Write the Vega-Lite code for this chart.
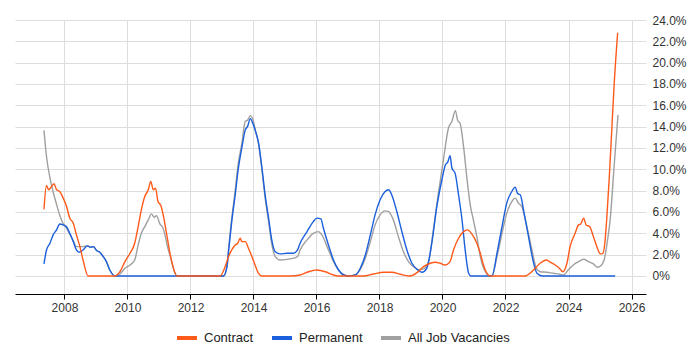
{
  "$schema": "https://vega.github.io/schema/vega-lite/v6.json",
  "autosize": {"type": "none"},
  "width": 631,
  "height": 274,
  "padding": {"left": 15, "top": 20, "right": 54, "bottom": 56},
  "background": "white",
  "config": {
    "view": {"stroke": null},
    "font": "Liberation Sans",
    "axis": {"labelFont": "Liberation Sans", "labelFontSize": 12, "labelColor": "#333333", "gridColor": "#dddddd", "gridWidth": 1}
  },
  "datasets": {
    "all": [
      {"series": "All Job Vacancies", "year": 2007.35, "pct": 13.65},
      {"series": "All Job Vacancies", "year": 2007.43, "pct": 11.2},
      {"series": "All Job Vacancies", "year": 2007.54, "pct": 9.2},
      {"series": "All Job Vacancies", "year": 2007.64, "pct": 7.9},
      {"series": "All Job Vacancies", "year": 2007.75, "pct": 6.7},
      {"series": "All Job Vacancies", "year": 2007.85, "pct": 5.7},
      {"series": "All Job Vacancies", "year": 2007.96, "pct": 4.9},
      {"series": "All Job Vacancies", "year": 2008.06, "pct": 4.5},
      {"series": "All Job Vacancies", "year": 2008.17, "pct": 3.9},
      {"series": "All Job Vacancies", "year": 2008.28, "pct": 3.3},
      {"series": "All Job Vacancies", "year": 2008.38, "pct": 2.75},
      {"series": "All Job Vacancies", "year": 2008.46, "pct": 2.75},
      {"series": "All Job Vacancies", "year": 2008.59, "pct": 2.75},
      {"series": "All Job Vacancies", "year": 2008.73, "pct": 2.82},
      {"series": "All Job Vacancies", "year": 2008.84, "pct": 2.7},
      {"series": "All Job Vacancies", "year": 2008.92, "pct": 2.75},
      {"series": "All Job Vacancies", "year": 2009.02, "pct": 2.38},
      {"series": "All Job Vacancies", "year": 2009.12, "pct": 2.22},
      {"series": "All Job Vacancies", "year": 2009.23, "pct": 1.82},
      {"series": "All Job Vacancies", "year": 2009.33, "pct": 1.35},
      {"series": "All Job Vacancies", "year": 2009.44, "pct": 0.56},
      {"series": "All Job Vacancies", "year": 2009.6, "pct": 0},
      {"series": "All Job Vacancies", "year": 2009.76, "pct": 0.19},
      {"series": "All Job Vacancies", "year": 2009.92, "pct": 0.72},
      {"series": "All Job Vacancies", "year": 2010.08, "pct": 1.03},
      {"series": "All Job Vacancies", "year": 2010.23, "pct": 1.5},
      {"series": "All Job Vacancies", "year": 2010.34, "pct": 2.91},
      {"series": "All Job Vacancies", "year": 2010.44, "pct": 4.0},
      {"series": "All Job Vacancies", "year": 2010.55, "pct": 4.63},
      {"series": "All Job Vacancies", "year": 2010.66, "pct": 5.26},
      {"series": "All Job Vacancies", "year": 2010.76, "pct": 5.82},
      {"series": "All Job Vacancies", "year": 2010.85, "pct": 5.51},
      {"series": "All Job Vacancies", "year": 2010.92, "pct": 5.66},
      {"series": "All Job Vacancies", "year": 2011.03, "pct": 4.88},
      {"series": "All Job Vacancies", "year": 2011.13, "pct": 4.48},
      {"series": "All Job Vacancies", "year": 2011.19, "pct": 3.85},
      {"series": "All Job Vacancies", "year": 2011.27, "pct": 2.75},
      {"series": "All Job Vacancies", "year": 2011.36, "pct": 1.82},
      {"series": "All Job Vacancies", "year": 2011.51, "pct": 0.25},
      {"series": "All Job Vacancies", "year": 2011.58, "pct": 0},
      {"series": "All Job Vacancies", "year": 2013.05, "pct": 0},
      {"series": "All Job Vacancies", "year": 2013.16, "pct": 1.0},
      {"series": "All Job Vacancies", "year": 2013.21, "pct": 2.6},
      {"series": "All Job Vacancies", "year": 2013.31, "pct": 5.4},
      {"series": "All Job Vacancies", "year": 2013.42, "pct": 8.0},
      {"series": "All Job Vacancies", "year": 2013.52, "pct": 10.6},
      {"series": "All Job Vacancies", "year": 2013.63, "pct": 12.4},
      {"series": "All Job Vacancies", "year": 2013.74, "pct": 14.5},
      {"series": "All Job Vacancies", "year": 2013.81, "pct": 14.6},
      {"series": "All Job Vacancies", "year": 2013.9, "pct": 15.03},
      {"series": "All Job Vacancies", "year": 2014.0, "pct": 14.5},
      {"series": "All Job Vacancies", "year": 2014.05, "pct": 13.8},
      {"series": "All Job Vacancies", "year": 2014.16, "pct": 12.4},
      {"series": "All Job Vacancies", "year": 2014.27, "pct": 9.9},
      {"series": "All Job Vacancies", "year": 2014.37, "pct": 7.3},
      {"series": "All Job Vacancies", "year": 2014.48, "pct": 5.1},
      {"series": "All Job Vacancies", "year": 2014.58, "pct": 3.0},
      {"series": "All Job Vacancies", "year": 2014.69, "pct": 1.82},
      {"series": "All Job Vacancies", "year": 2014.85, "pct": 1.5},
      {"series": "All Job Vacancies", "year": 2015.17, "pct": 1.6},
      {"series": "All Job Vacancies", "year": 2015.4, "pct": 1.82},
      {"series": "All Job Vacancies", "year": 2015.48, "pct": 2.44},
      {"series": "All Job Vacancies", "year": 2015.7, "pct": 3.38},
      {"series": "All Job Vacancies", "year": 2015.9, "pct": 4.0},
      {"series": "All Job Vacancies", "year": 2016.06, "pct": 4.16},
      {"series": "All Job Vacancies", "year": 2016.17, "pct": 3.85},
      {"series": "All Job Vacancies", "year": 2016.38, "pct": 2.44},
      {"series": "All Job Vacancies", "year": 2016.54, "pct": 1.35},
      {"series": "All Job Vacancies", "year": 2016.75, "pct": 0.4},
      {"series": "All Job Vacancies", "year": 2017.02, "pct": 0},
      {"series": "All Job Vacancies", "year": 2017.23, "pct": 0.1},
      {"series": "All Job Vacancies", "year": 2017.39, "pct": 0.6},
      {"series": "All Job Vacancies", "year": 2017.55, "pct": 1.66},
      {"series": "All Job Vacancies", "year": 2017.71, "pct": 3.22},
      {"series": "All Job Vacancies", "year": 2017.86, "pct": 4.79},
      {"series": "All Job Vacancies", "year": 2018.02, "pct": 5.73},
      {"series": "All Job Vacancies", "year": 2018.18, "pct": 6.1},
      {"series": "All Job Vacancies", "year": 2018.29, "pct": 6.04},
      {"series": "All Job Vacancies", "year": 2018.44, "pct": 5.26},
      {"series": "All Job Vacancies", "year": 2018.6, "pct": 3.69},
      {"series": "All Job Vacancies", "year": 2018.76, "pct": 2.28},
      {"series": "All Job Vacancies", "year": 2018.92, "pct": 1.35},
      {"series": "All Job Vacancies", "year": 2019.08, "pct": 0.87},
      {"series": "All Job Vacancies", "year": 2019.24, "pct": 0.6},
      {"series": "All Job Vacancies", "year": 2019.4, "pct": 0.66},
      {"series": "All Job Vacancies", "year": 2019.56, "pct": 1.35},
      {"series": "All Job Vacancies", "year": 2019.71, "pct": 4.32},
      {"series": "All Job Vacancies", "year": 2019.87, "pct": 7.76},
      {"series": "All Job Vacancies", "year": 2020.03, "pct": 10.9},
      {"series": "All Job Vacancies", "year": 2020.19, "pct": 13.87},
      {"series": "All Job Vacancies", "year": 2020.3, "pct": 14.5},
      {"series": "All Job Vacancies", "year": 2020.41, "pct": 15.5},
      {"series": "All Job Vacancies", "year": 2020.48, "pct": 14.6},
      {"series": "All Job Vacancies", "year": 2020.56, "pct": 14.3},
      {"series": "All Job Vacancies", "year": 2020.67, "pct": 12.1},
      {"series": "All Job Vacancies", "year": 2020.77, "pct": 9.3},
      {"series": "All Job Vacancies", "year": 2020.88, "pct": 6.67},
      {"series": "All Job Vacancies", "year": 2020.98, "pct": 5.26},
      {"series": "All Job Vacancies", "year": 2021.09, "pct": 3.69},
      {"series": "All Job Vacancies", "year": 2021.2, "pct": 1.82},
      {"series": "All Job Vacancies", "year": 2021.36, "pct": 0.4},
      {"series": "All Job Vacancies", "year": 2021.51, "pct": 0},
      {"series": "All Job Vacancies", "year": 2021.57, "pct": 0},
      {"series": "All Job Vacancies", "year": 2021.73, "pct": 1.82},
      {"series": "All Job Vacancies", "year": 2021.89, "pct": 4.0},
      {"series": "All Job Vacancies", "year": 2022.04, "pct": 5.89},
      {"series": "All Job Vacancies", "year": 2022.2, "pct": 6.98},
      {"series": "All Job Vacancies", "year": 2022.31, "pct": 7.3},
      {"series": "All Job Vacancies", "year": 2022.41, "pct": 6.83},
      {"series": "All Job Vacancies", "year": 2022.52, "pct": 6.5},
      {"series": "All Job Vacancies", "year": 2022.68, "pct": 4.63},
      {"series": "All Job Vacancies", "year": 2022.84, "pct": 2.44},
      {"series": "All Job Vacancies", "year": 2022.98, "pct": 0.72},
      {"series": "All Job Vacancies", "year": 2023.1, "pct": 0.4},
      {"series": "All Job Vacancies", "year": 2023.31, "pct": 0.35},
      {"series": "All Job Vacancies", "year": 2023.52, "pct": 0.25},
      {"series": "All Job Vacancies", "year": 2023.73, "pct": 0.16},
      {"series": "All Job Vacancies", "year": 2023.84, "pct": 0.09},
      {"series": "All Job Vacancies", "year": 2023.99, "pct": 0.56},
      {"series": "All Job Vacancies", "year": 2024.15, "pct": 1.03},
      {"series": "All Job Vacancies", "year": 2024.32, "pct": 1.35},
      {"series": "All Job Vacancies", "year": 2024.48, "pct": 1.57},
      {"series": "All Job Vacancies", "year": 2024.63, "pct": 1.35},
      {"series": "All Job Vacancies", "year": 2024.79, "pct": 1.13},
      {"series": "All Job Vacancies", "year": 2024.92, "pct": 0.82},
      {"series": "All Job Vacancies", "year": 2025.02, "pct": 0.94},
      {"series": "All Job Vacancies", "year": 2025.13, "pct": 1.5},
      {"series": "All Job Vacancies", "year": 2025.24, "pct": 3.38},
      {"series": "All Job Vacancies", "year": 2025.33, "pct": 5.5},
      {"series": "All Job Vacancies", "year": 2025.44, "pct": 9.96},
      {"series": "All Job Vacancies", "year": 2025.57, "pct": 15.1}
    ],
    "perm": [
      {"series": "Permanent", "year": 2007.35, "pct": 1.13},
      {"series": "Permanent", "year": 2007.43, "pct": 2.44},
      {"series": "Permanent", "year": 2007.54, "pct": 3.07},
      {"series": "Permanent", "year": 2007.64, "pct": 3.85},
      {"series": "Permanent", "year": 2007.75, "pct": 4.32},
      {"series": "Permanent", "year": 2007.85, "pct": 4.88},
      {"series": "Permanent", "year": 2007.96, "pct": 4.79},
      {"series": "Permanent", "year": 2008.06, "pct": 4.63},
      {"series": "Permanent", "year": 2008.17, "pct": 4.0},
      {"series": "Permanent", "year": 2008.28, "pct": 3.22},
      {"series": "Permanent", "year": 2008.38, "pct": 2.44},
      {"series": "Permanent", "year": 2008.46, "pct": 2.22},
      {"series": "Permanent", "year": 2008.59, "pct": 2.44},
      {"series": "Permanent", "year": 2008.73, "pct": 2.82},
      {"series": "Permanent", "year": 2008.84, "pct": 2.7},
      {"series": "Permanent", "year": 2008.92, "pct": 2.75},
      {"series": "Permanent", "year": 2009.02, "pct": 2.38},
      {"series": "Permanent", "year": 2009.12, "pct": 2.22},
      {"series": "Permanent", "year": 2009.23, "pct": 1.82},
      {"series": "Permanent", "year": 2009.33, "pct": 1.35},
      {"series": "Permanent", "year": 2009.44, "pct": 0.56},
      {"series": "Permanent", "year": 2009.6, "pct": 0},
      {"series": "Permanent", "year": 2013.05, "pct": 0},
      {"series": "Permanent", "year": 2013.16, "pct": 0.87},
      {"series": "Permanent", "year": 2013.21, "pct": 2.3},
      {"series": "Permanent", "year": 2013.31, "pct": 5.1},
      {"series": "Permanent", "year": 2013.42, "pct": 7.6},
      {"series": "Permanent", "year": 2013.52, "pct": 10.1},
      {"series": "Permanent", "year": 2013.63, "pct": 12.0},
      {"series": "Permanent", "year": 2013.74, "pct": 13.7},
      {"series": "Permanent", "year": 2013.81, "pct": 14.0},
      {"series": "Permanent", "year": 2013.9, "pct": 14.75},
      {"series": "Permanent", "year": 2013.98, "pct": 14.3},
      {"series": "Permanent", "year": 2014.05, "pct": 13.7},
      {"series": "Permanent", "year": 2014.16, "pct": 12.5},
      {"series": "Permanent", "year": 2014.27, "pct": 10.1},
      {"series": "Permanent", "year": 2014.37, "pct": 7.6},
      {"series": "Permanent", "year": 2014.48, "pct": 5.42},
      {"series": "Permanent", "year": 2014.58, "pct": 3.38},
      {"series": "Permanent", "year": 2014.69, "pct": 2.28},
      {"series": "Permanent", "year": 2014.85, "pct": 2.07},
      {"series": "Permanent", "year": 2015.06, "pct": 2.13},
      {"series": "Permanent", "year": 2015.27, "pct": 2.13},
      {"series": "Permanent", "year": 2015.4, "pct": 2.44},
      {"series": "Permanent", "year": 2015.48, "pct": 3.07},
      {"series": "Permanent", "year": 2015.7, "pct": 4.16},
      {"series": "Permanent", "year": 2015.9, "pct": 5.1},
      {"series": "Permanent", "year": 2016.01, "pct": 5.42},
      {"series": "Permanent", "year": 2016.14, "pct": 5.35},
      {"series": "Permanent", "year": 2016.22, "pct": 4.48},
      {"series": "Permanent", "year": 2016.38, "pct": 2.91},
      {"series": "Permanent", "year": 2016.54, "pct": 1.5},
      {"series": "Permanent", "year": 2016.7, "pct": 0.56},
      {"series": "Permanent", "year": 2016.86, "pct": 0.09},
      {"series": "Permanent", "year": 2017.02, "pct": 0},
      {"series": "Permanent", "year": 2017.23, "pct": 0.09},
      {"series": "Permanent", "year": 2017.39, "pct": 0.72},
      {"series": "Permanent", "year": 2017.55, "pct": 1.97},
      {"series": "Permanent", "year": 2017.71, "pct": 3.85},
      {"series": "Permanent", "year": 2017.86, "pct": 5.73},
      {"series": "Permanent", "year": 2018.02, "pct": 7.14},
      {"series": "Permanent", "year": 2018.18, "pct": 7.92},
      {"series": "Permanent", "year": 2018.29, "pct": 8.08},
      {"series": "Permanent", "year": 2018.39, "pct": 7.6},
      {"series": "Permanent", "year": 2018.55, "pct": 6.04},
      {"series": "Permanent", "year": 2018.71, "pct": 4.16},
      {"series": "Permanent", "year": 2018.87, "pct": 2.44},
      {"series": "Permanent", "year": 2019.03, "pct": 1.19},
      {"series": "Permanent", "year": 2019.19, "pct": 0.63},
      {"series": "Permanent", "year": 2019.35, "pct": 0.35},
      {"series": "Permanent", "year": 2019.5, "pct": 0.72},
      {"series": "Permanent", "year": 2019.66, "pct": 3.07},
      {"series": "Permanent", "year": 2019.82, "pct": 6.5},
      {"series": "Permanent", "year": 2019.98, "pct": 9.0},
      {"series": "Permanent", "year": 2020.09, "pct": 10.4},
      {"series": "Permanent", "year": 2020.17, "pct": 10.7},
      {"series": "Permanent", "year": 2020.24, "pct": 11.27},
      {"series": "Permanent", "year": 2020.3, "pct": 10.1},
      {"series": "Permanent", "year": 2020.4, "pct": 9.64},
      {"series": "Permanent", "year": 2020.51, "pct": 7.6},
      {"series": "Permanent", "year": 2020.62, "pct": 5.26},
      {"series": "Permanent", "year": 2020.72, "pct": 2.44},
      {"series": "Permanent", "year": 2020.83, "pct": 0.25},
      {"series": "Permanent", "year": 2020.9, "pct": 0},
      {"series": "Permanent", "year": 2021.57, "pct": 0},
      {"series": "Permanent", "year": 2021.73, "pct": 2.13},
      {"series": "Permanent", "year": 2021.89, "pct": 4.63},
      {"series": "Permanent", "year": 2022.04, "pct": 6.83},
      {"series": "Permanent", "year": 2022.2, "pct": 7.92},
      {"series": "Permanent", "year": 2022.31, "pct": 8.33},
      {"series": "Permanent", "year": 2022.38, "pct": 7.76},
      {"series": "Permanent", "year": 2022.47, "pct": 7.6},
      {"series": "Permanent", "year": 2022.59, "pct": 5.89},
      {"series": "Permanent", "year": 2022.73, "pct": 3.69},
      {"series": "Permanent", "year": 2022.87, "pct": 1.5},
      {"series": "Permanent", "year": 2023.0, "pct": 0.25},
      {"series": "Permanent", "year": 2023.16, "pct": 0},
      {"series": "Permanent", "year": 2025.48, "pct": 0}
    ],
    "contract": [
      {"series": "Contract", "year": 2007.35, "pct": 6.26},
      {"series": "Contract", "year": 2007.43, "pct": 8.48},
      {"series": "Contract", "year": 2007.5, "pct": 8.08},
      {"series": "Contract", "year": 2007.59, "pct": 8.39},
      {"series": "Contract", "year": 2007.67, "pct": 8.64},
      {"series": "Contract", "year": 2007.75, "pct": 8.08},
      {"series": "Contract", "year": 2007.85, "pct": 7.92},
      {"series": "Contract", "year": 2007.96, "pct": 7.3},
      {"series": "Contract", "year": 2008.06, "pct": 6.58},
      {"series": "Contract", "year": 2008.17, "pct": 5.42},
      {"series": "Contract", "year": 2008.28, "pct": 4.95},
      {"series": "Contract", "year": 2008.38, "pct": 3.85},
      {"series": "Contract", "year": 2008.49, "pct": 2.75},
      {"series": "Contract", "year": 2008.59, "pct": 1.5},
      {"series": "Contract", "year": 2008.75, "pct": 0},
      {"series": "Contract", "year": 2009.6, "pct": 0},
      {"series": "Contract", "year": 2009.76, "pct": 0.4},
      {"series": "Contract", "year": 2009.92, "pct": 1.35},
      {"series": "Contract", "year": 2010.08, "pct": 2.13},
      {"series": "Contract", "year": 2010.23, "pct": 3.07},
      {"series": "Contract", "year": 2010.34, "pct": 4.63},
      {"series": "Contract", "year": 2010.44, "pct": 6.2},
      {"series": "Contract", "year": 2010.55, "pct": 7.45},
      {"series": "Contract", "year": 2010.66, "pct": 8.08},
      {"series": "Contract", "year": 2010.74, "pct": 8.86},
      {"series": "Contract", "year": 2010.82, "pct": 8.08},
      {"series": "Contract", "year": 2010.89, "pct": 8.24},
      {"series": "Contract", "year": 2010.97, "pct": 6.98},
      {"series": "Contract", "year": 2011.06, "pct": 6.6},
      {"series": "Contract", "year": 2011.15, "pct": 5.5},
      {"series": "Contract", "year": 2011.24, "pct": 4.0},
      {"series": "Contract", "year": 2011.36, "pct": 1.97},
      {"series": "Contract", "year": 2011.46, "pct": 0.72},
      {"series": "Contract", "year": 2011.57, "pct": 0},
      {"series": "Contract", "year": 2012.94, "pct": 0},
      {"series": "Contract", "year": 2013.1, "pct": 0.87},
      {"series": "Contract", "year": 2013.21, "pct": 1.82},
      {"series": "Contract", "year": 2013.31, "pct": 2.44},
      {"series": "Contract", "year": 2013.42, "pct": 2.91},
      {"series": "Contract", "year": 2013.5, "pct": 3.07},
      {"series": "Contract", "year": 2013.58, "pct": 3.54},
      {"series": "Contract", "year": 2013.63, "pct": 3.22},
      {"series": "Contract", "year": 2013.74, "pct": 3.22},
      {"series": "Contract", "year": 2013.84, "pct": 2.6},
      {"series": "Contract", "year": 2013.95, "pct": 1.82},
      {"series": "Contract", "year": 2014.05, "pct": 1.03},
      {"series": "Contract", "year": 2014.16, "pct": 0.25},
      {"series": "Contract", "year": 2014.27, "pct": 0},
      {"series": "Contract", "year": 2015.17, "pct": 0},
      {"series": "Contract", "year": 2015.48, "pct": 0.09},
      {"series": "Contract", "year": 2015.75, "pct": 0.4},
      {"series": "Contract", "year": 2016.01, "pct": 0.56},
      {"series": "Contract", "year": 2016.28, "pct": 0.4},
      {"series": "Contract", "year": 2016.54, "pct": 0.09},
      {"series": "Contract", "year": 2016.69, "pct": 0},
      {"series": "Contract", "year": 2017.49, "pct": 0},
      {"series": "Contract", "year": 2017.81, "pct": 0.19},
      {"series": "Contract", "year": 2018.13, "pct": 0.35},
      {"series": "Contract", "year": 2018.39, "pct": 0.35},
      {"series": "Contract", "year": 2018.66, "pct": 0.16},
      {"series": "Contract", "year": 2018.92, "pct": 0},
      {"series": "Contract", "year": 2018.97, "pct": 0},
      {"series": "Contract", "year": 2019.19, "pct": 0.31},
      {"series": "Contract", "year": 2019.4, "pct": 0.87},
      {"series": "Contract", "year": 2019.61, "pct": 1.19},
      {"series": "Contract", "year": 2019.77, "pct": 1.29},
      {"series": "Contract", "year": 2019.93, "pct": 1.19},
      {"series": "Contract", "year": 2020.08, "pct": 1.03},
      {"series": "Contract", "year": 2020.24, "pct": 1.35},
      {"series": "Contract", "year": 2020.35, "pct": 2.44},
      {"series": "Contract", "year": 2020.51, "pct": 3.54},
      {"series": "Contract", "year": 2020.67, "pct": 4.16},
      {"series": "Contract", "year": 2020.79, "pct": 4.32},
      {"series": "Contract", "year": 2020.93, "pct": 3.95},
      {"series": "Contract", "year": 2021.09, "pct": 3.07},
      {"series": "Contract", "year": 2021.2, "pct": 2.13},
      {"series": "Contract", "year": 2021.3, "pct": 1.03},
      {"series": "Contract", "year": 2021.41, "pct": 0.25},
      {"series": "Contract", "year": 2021.51, "pct": 0},
      {"series": "Contract", "year": 2022.62, "pct": 0},
      {"series": "Contract", "year": 2022.89, "pct": 0.56},
      {"series": "Contract", "year": 2023.1, "pct": 1.19},
      {"series": "Contract", "year": 2023.29, "pct": 1.5},
      {"series": "Contract", "year": 2023.42, "pct": 1.29},
      {"series": "Contract", "year": 2023.58, "pct": 1.03},
      {"series": "Contract", "year": 2023.71, "pct": 0.72},
      {"series": "Contract", "year": 2023.82, "pct": 0.4},
      {"series": "Contract", "year": 2023.95, "pct": 1.19},
      {"series": "Contract", "year": 2024.05, "pct": 2.75},
      {"series": "Contract", "year": 2024.21, "pct": 4.0},
      {"series": "Contract", "year": 2024.32, "pct": 4.79},
      {"series": "Contract", "year": 2024.39, "pct": 4.88},
      {"series": "Contract", "year": 2024.48, "pct": 5.42},
      {"series": "Contract", "year": 2024.56, "pct": 4.79},
      {"series": "Contract", "year": 2024.67, "pct": 4.63},
      {"series": "Contract", "year": 2024.79, "pct": 3.69},
      {"series": "Contract", "year": 2024.9, "pct": 2.75},
      {"series": "Contract", "year": 2025.01, "pct": 2.07},
      {"series": "Contract", "year": 2025.09, "pct": 2.13},
      {"series": "Contract", "year": 2025.15, "pct": 3.0},
      {"series": "Contract", "year": 2025.21, "pct": 5.2},
      {"series": "Contract", "year": 2025.29, "pct": 9.0},
      {"series": "Contract", "year": 2025.37, "pct": 13.5},
      {"series": "Contract", "year": 2025.45, "pct": 18.0},
      {"series": "Contract", "year": 2025.56, "pct": 22.8}
    ]
  },
  "encoding": {
    "x": {
      "field": "year", "type": "quantitative",
      "scale": {"domain": [2006.43, 2026.46], "nice": false, "zero": false},
      "axis": {
        "title": null, "values": [2008, 2010, 2012, 2014, 2016, 2018, 2020, 2022, 2024, 2026],
        "format": "d", "grid": true, "domain": true, "domainColor": "#000000", "domainWidth": 1,
        "ticks": true, "tickColor": "#000000", "tickSize": 5, "labelPadding": 3
      }
    },
    "y": {
      "field": "pct", "type": "quantitative",
      "scale": {"domain": [-1.69, 24], "nice": false, "zero": false},
      "axis": {
        "title": null, "orient": "right", "values": [0, 2, 4, 6, 8, 10, 12, 14, 16, 18, 20, 22, 24],
        "labelExpr": "datum.value == 0 ? '0%' : format(datum.value, '.1f') + '%'",
        "grid": true, "domain": false, "ticks": false, "labelPadding": 6, "labelAlign": "left"
      }
    },
    "color": {
      "field": "series", "type": "nominal",
      "scale": {"domain": ["Contract", "Permanent", "All Job Vacancies"], "range": ["#ff5a1a", "#1a5fdc", "#a0a0a0"]},
      "legend": {
        "title": null, "orient": "none", "direction": "horizontal", "legendX": 160, "legendY": 306,
        "symbolType": "stroke", "symbolStrokeWidth": 4, "symbolSize": 400,
        "labelFont": "Liberation Sans", "labelFontSize": 13, "labelColor": "#222222",
        "columnPadding": 10, "labelOffset": 5
      }
    }
  },
  "layer": [
    {"data": {"name": "all"}, "mark": {"type": "line", "strokeWidth": 1.4, "interpolate": "monotone"}},
    {"data": {"name": "perm"}, "mark": {"type": "line", "strokeWidth": 1.4, "interpolate": "monotone"}},
    {"data": {"name": "contract"}, "mark": {"type": "line", "strokeWidth": 1.4, "interpolate": "monotone"}}
  ]
}
